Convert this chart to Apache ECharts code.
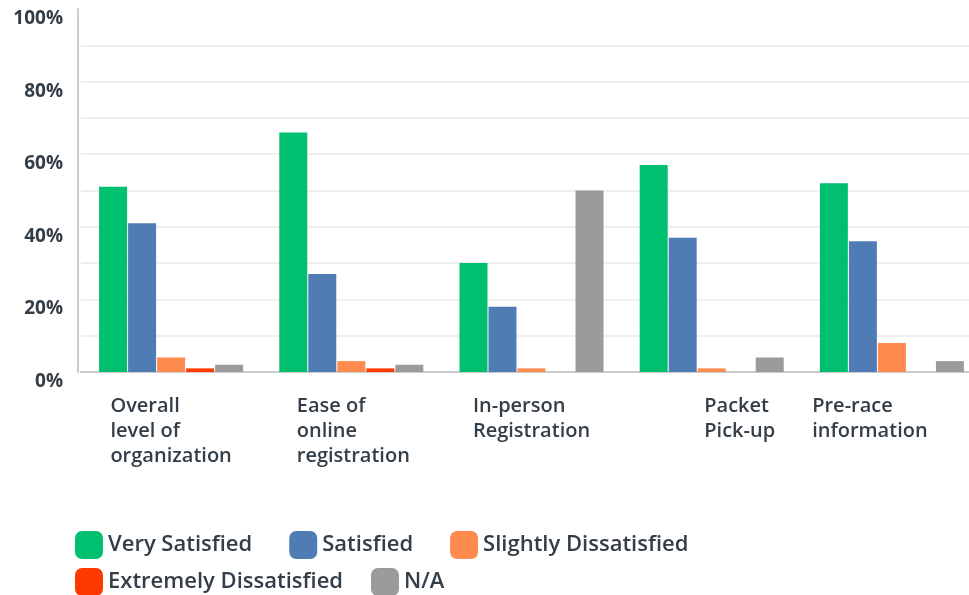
<!DOCTYPE html>
<html><head><meta charset="utf-8">
<script src="https://cdn.jsdelivr.net/npm/echarts@6/dist/echarts.min.js"></script>
<style>html,body{margin:0;padding:0;background:#fff;overflow:hidden}#c{width:990px;height:595px}</style>
</head><body><div id="c"></div>
<script>
var categories = ["Overall\nlevel of\norganization", "Ease of\nonline\nregistration", "In-person\nRegistration", "Packet\nPick-up", "Pre-race\ninformation"];
var seriesNames = ["Very Satisfied", "Satisfied", "Slightly Dissatisfied", "Extremely Dissatisfied", "N/A"];
var verySatisfied = [51, 66, 30, 57, 52];
var satisfied = [41, 27, 18, 37, 36];
var slightlyDissatisfied = [4, 3, 1, 1, 8];
var extremelyDissatisfied = [1, 1, 0, 0, 0];
var notApplicable = [2, 2, 50, 4, 3];
var yTicks = [0, 20, 40, 60, 80, 100];
var colors = ["#00bf6f", "#507cb6", "#ff8b4f", "#ff3a00", "#9b9b9b"];
var labelPad = [[0,0,0,0],[0,0,0,4],[0,0,0,0],[0,0,0,56],[0,44,0,0]];

var values = [verySatisfied, satisfied, slightlyDissatisfied, extremelyDissatisfied, notApplicable];
var textColor = "#333e48";
var font = "Open Sans";

var chart = echarts.init(document.getElementById('c'));
chart.setOption({
  animation: false,
  color: colors,
  grid: {left: 81, top: 9, width: 901, height: 363, containLabel: false},
  legend: [
    {data: seriesNames.slice(0,3), left: 75, top: 531, padding: 0, itemWidth: 28, itemHeight: 28, itemGap: 37, icon: 'roundRect',
     textStyle: {fontFamily: font, fontSize: 22, fontWeight: 600, color: textColor}},
    {data: seriesNames.slice(3), left: 75, top: 568, padding: 0, itemWidth: 28, itemHeight: 28, itemGap: 28, icon: 'roundRect',
     textStyle: {fontFamily: font, fontSize: 22, fontWeight: 600, color: textColor}}
  ],
  xAxis: {
    type: 'category',
    data: categories.map(function(c, i){ return {value: c, textStyle: {padding: labelPad[i]}}; }),
    axisLine: {lineStyle: {color: '#cccccc', width: 2}},
    axisTick: {show: false},
    axisLabel: {
      margin: 22, interval: 0,
      formatter: function(v){ return v.split('\n').map(function(l){ return '{a|' + l + '}'; }).join('\n'); },
      rich: {a: {align: 'left', fontFamily: font, fontSize: 20, fontWeight: 600, color: textColor, lineHeight: 25}}
    }
  },
  yAxis: {
    type: 'value', min: 0, max: 100, interval: 10, offset: 3,
    axisLine: {show: true, lineStyle: {color: '#cccccc', width: 2}},
    axisTick: {show: false},
    splitLine: {showMaxLine: false, lineStyle: {color: '#efefef', width: 2}},
    axisLabel: {
      margin: 15, verticalAlign: 'top',
      fontFamily: font, fontSize: 19, fontWeight: 700, color: textColor,
      formatter: function(v){ return yTicks.indexOf(v) >= 0 ? v + '%' : ''; }
    }
  },
  series: seriesNames.map(function(n, i){
    return {name: n, type: 'bar', data: values[i], barWidth: 28, barGap: '3.6%', itemStyle: {color: colors[i]}};
  })
});
</script>
</body></html>
